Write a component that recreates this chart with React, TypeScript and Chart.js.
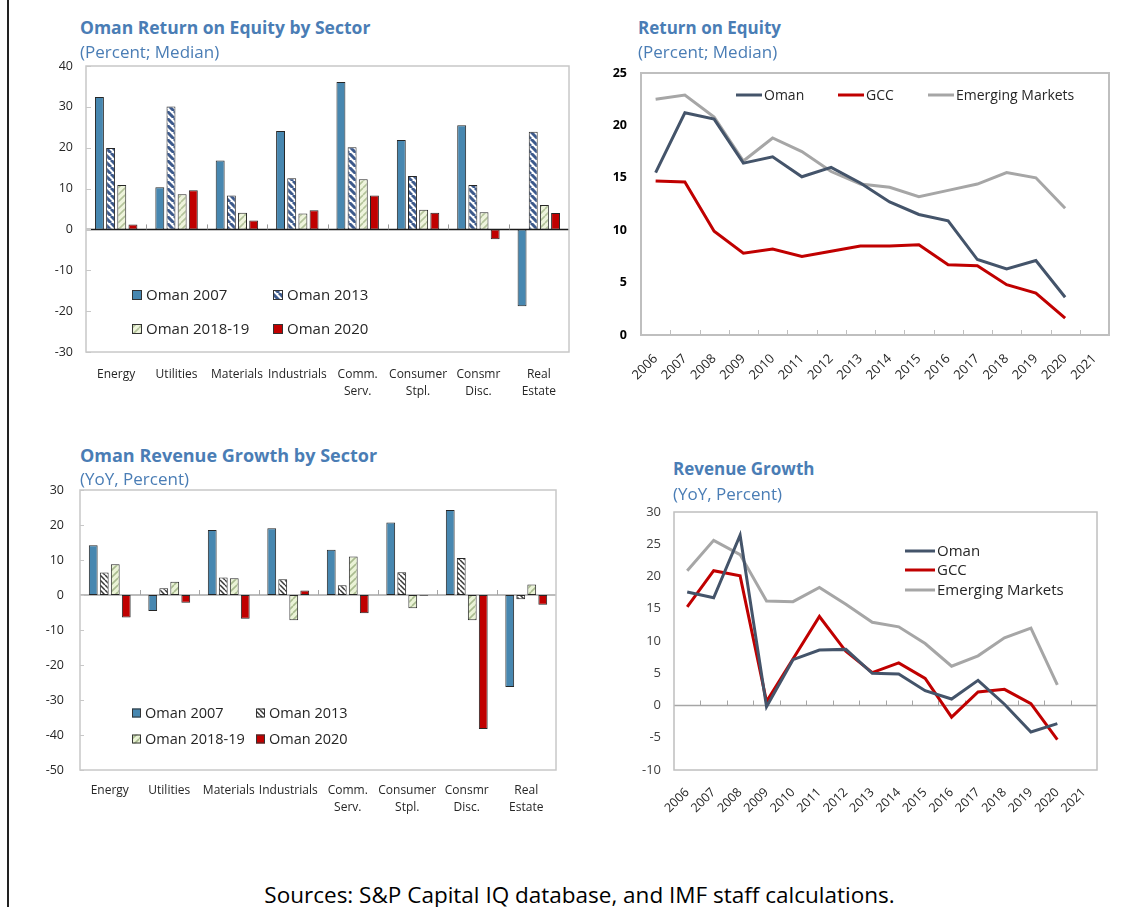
import React, { useEffect, useRef } from 'react';
import { Chart, registerables } from 'chart.js';

Chart.register(...registerables);

const FONT = '"Open Sans", "Noto Sans", "DejaVu Sans", sans-serif';
const TEXT = '#262626';
const BLUE = '#4787b0';
const RED = '#c00000';
const OMAN_LINE = '#44546a';
const GCC_LINE = '#c00000';
const EM_LINE = '#a6a6a6';
const TITLE_BLUE = '#4a7db5';

// ---------- Data ----------
const sectors = [
  ['Energy'],
  ['Utilities'],
  ['Materials'],
  ['Industrials'],
  ['Comm.', 'Serv.'],
  ['Consumer', 'Stpl.'],
  ['Consmr', 'Disc.'],
  ['Real', 'Estate'],
];
const sectorSeries = ['Oman 2007', 'Oman 2013', 'Oman 2018-19', 'Oman 2020'];

const roeOman2007 = [32.4, 10.3, 16.9, 24.1, 36.1, 21.9, 25.5, -18.8];
const roeOman2013 = [19.9, 30.1, 8.3, 12.5, 20.1, 13.1, 10.9, 23.9];
const roeOman2018 = [10.9, 8.6, 4.1, 3.9, 12.3, 4.8, 4.2, 6.0];
const roeOman2020 = [1.2, 9.6, 2.2, 4.7, 8.3, 4.1, -2.4, 4.0];

const revOman2007 = [14.2, -4.6, 18.6, 19.1, 12.9, 20.7, 24.3, -26.3];
const revOman2013 = [6.4, 1.9, 5.0, 4.5, 2.8, 6.5, 10.6, -1.2];
const revOman2018 = [8.8, 3.8, 4.8, -7.2, 11.0, -3.8, -7.2, 3.0];
const revOman2020 = [-6.4, -2.2, -6.8, 1.3, -5.2, -0.2, -38.3, -2.8];

const years = ['2006', '2007', '2008', '2009', '2010', '2011', '2012', '2013', '2014', '2015', '2016', '2017', '2018', '2019', '2020', '2021'];
const lineSeries = ['Oman', 'GCC', 'Emerging Markets'];

const roeOman = [15.5, 21.2, 20.6, 16.4, 17.0, 15.1, 16.0, 14.5, 12.7, 11.5, 10.9, 7.2, 6.3, 7.1, 3.6];
const roeGCC = [14.7, 14.6, 9.9, 7.8, 8.2, 7.5, 8.0, 8.5, 8.5, 8.6, 6.7, 6.6, 4.8, 4.0, 1.6];
const roeEM = [22.5, 22.9, 20.8, 16.6, 18.8, 17.5, 15.6, 14.4, 14.1, 13.2, 13.8, 14.4, 15.5, 15.0, 12.1];

const revOman = [17.6, 16.7, 26.4, -0.2, 7.1, 8.6, 8.7, 5.0, 4.9, 2.3, 1.0, 3.9, 0.2, -4.1, -2.8];
const revGCC = [15.3, 20.9, 20.1, 0.6, 7.2, 13.8, 8.4, 5.1, 6.6, 4.2, -1.8, 2.1, 2.5, 0.3, -5.3];
const revEM = [20.9, 25.6, 23.4, 16.2, 16.1, 18.3, 15.7, 12.9, 12.2, 9.6, 6.1, 7.7, 10.5, 12.0, 3.2];

// ---------- Helpers ----------
function hatch(bg: string, fg: string, size: number, lw: number, dir: 'back' | 'fwd'): any {
  const c = document.createElement('canvas');
  c.width = size;
  c.height = size;
  const g = c.getContext('2d');
  if (!g) return bg;
  g.fillStyle = bg;
  g.fillRect(0, 0, size, size);
  g.strokeStyle = fg;
  g.lineWidth = lw;
  g.beginPath();
  for (let k = -1; k <= 1; k++) {
    if (dir === 'back') {
      g.moveTo(k * size, 0);
      g.lineTo(k * size + size, size);
    } else {
      g.moveTo(k * size, size);
      g.lineTo(k * size + size, 0);
    }
  }
  g.stroke();
  return g.createPattern(c, 'repeat') || bg;
}

type LegendSpec = {
  kind: 'box' | 'line';
  pos: [number, number][];
  size: number;
  gap: number;
  font: string;
};
type DecoSpec = {
  frame: string;
  frameW: number;
  zero?: string;
  zeroW?: number;
  catTickAt: number;
  catTickLen: number;
  catTickColor: string;
  yInside?: number;
  legend: LegendSpec;
};

function deco(spec: DecoSpec) {
  return {
    id: 'deco',
    beforeDatasetsDraw(chart: any) {
      const { ctx, chartArea: a, scales } = chart;
      const xs = scales.x;
      const ys = scales.y;
      ctx.save();
      if (spec.zero) {
        const py = ys.getPixelForValue(0);
        ctx.strokeStyle = spec.zero;
        ctx.lineWidth = spec.zeroW || 1;
        ctx.beginPath();
        ctx.moveTo(a.left, py);
        ctx.lineTo(a.right, py);
        ctx.stroke();
      }
      const n = xs.ticks.length;
      const ty = ys.getPixelForValue(spec.catTickAt);
      ctx.strokeStyle = spec.catTickColor;
      ctx.lineWidth = 1;
      ctx.beginPath();
      for (let i = 1; i < n; i++) {
        const px = Math.round(xs.getPixelForValue(i - 0.5)) + 0.5;
        ctx.moveTo(px, ty);
        ctx.lineTo(px, ty - spec.catTickLen);
      }
      ctx.stroke();
      if (spec.yInside) {
        ctx.beginPath();
        ys.ticks.forEach((t: any) => {
          const py = Math.round(ys.getPixelForValue(t.value)) + 0.5;
          ctx.moveTo(a.left, py);
          ctx.lineTo(a.left + spec.yInside!, py);
        });
        ctx.strokeStyle = spec.frame;
        ctx.stroke();
      }
      ctx.strokeStyle = spec.frame;
      ctx.lineWidth = spec.frameW;
      ctx.strokeRect(a.left, a.top, a.width, a.height);
      ctx.restore();
    },
    afterDraw(chart: any) {
      const { ctx, chartArea: a } = chart;
      const L = spec.legend;
      ctx.save();
      ctx.font = L.font;
      ctx.textBaseline = 'middle';
      ctx.textAlign = 'left';
      chart.data.datasets.forEach((ds: any, i: number) => {
        const p = L.pos[i];
        if (!p) return;
        const x0 = a.left + p[0];
        const yc = a.top + p[1];
        let tx = x0;
        if (L.kind === 'box') {
          ctx.fillStyle = ds.backgroundColor;
          ctx.fillRect(x0, yc - L.size / 2, L.size, L.size);
          ctx.strokeStyle = '#333';
          ctx.lineWidth = 1;
          ctx.strokeRect(x0 + 0.5, yc - L.size / 2 + 0.5, L.size - 1, L.size - 1);
          tx = x0 + L.size + L.gap;
        } else {
          ctx.strokeStyle = ds.borderColor;
          ctx.lineWidth = 3;
          ctx.beginPath();
          ctx.moveTo(x0, yc);
          ctx.lineTo(x0 + L.size, yc);
          ctx.stroke();
          tx = x0 + L.size + L.gap;
        }
        ctx.fillStyle = TEXT;
        ctx.fillText(ds.label, tx, yc + 1);
      });
      ctx.restore();
    },
  };
}

function useChart(ref: React.RefObject<HTMLCanvasElement | null>, make: () => any) {
  useEffect(() => {
    if (!ref.current) return;
    const chart = new Chart(ref.current, make());
    return () => chart.destroy();
  }, []);
}

function fixX(h: number) {
  return (s: any) => {
    s.height = h;
    s.paddingLeft = 0;
    s.paddingRight = 0;
  };
}
function fixY(w: number) {
  return (s: any) => {
    s.width = w;
    s.paddingTop = 0;
    s.paddingBottom = 0;
  };
}

function barDatasets(vals: number[][], fills: any[]) {
  return vals.map((v, i) => ({
    label: sectorSeries[i],
    data: v,
    backgroundColor: fills[i],
    borderColor: '#262626',
    borderWidth: 1,
    borderSkipped: false,
    categoryPercentage: 0.74,
    barPercentage: 0.8,
  }));
}

function lineDatasets(vals: number[][]) {
  const colors = [OMAN_LINE, GCC_LINE, EM_LINE];
  return vals.map((v, i) => ({
    label: lineSeries[i],
    data: v,
    borderColor: colors[i],
    backgroundColor: colors[i],
    borderWidth: 3,
    pointRadius: 0,
    tension: 0,
    fill: false,
  }));
}

const noGrid = { display: false, drawTicks: false };

// ---------- Charts ----------
function RoeSectorChart() {
  const ref = useRef<HTMLCanvasElement>(null);
  useChart(ref, () => {
    const fills = [
      BLUE,
      hatch('#ffffff', '#3d5a8c', 7, 3, 'back'),
      hatch('#eef4dc', '#b3c39a', 7, 1.6, 'fwd'),
      RED,
    ];
    return {
      type: 'bar',
      data: {
        labels: sectors,
        datasets: barDatasets([roeOman2007, roeOman2013, roeOman2018, roeOman2020], fills),
      },
      options: {
        responsive: false,
        animation: false,
        layout: { padding: { top: 11, right: 6, left: 0, bottom: 0 } },
        plugins: { legend: { display: false }, tooltip: { enabled: false } },
        scales: {
          x: {
            grid: noGrid,
            border: { display: false },
            ticks: {
              font: { family: FONT, size: 12, lineHeight: 1.4 },
              color: TEXT,
              padding: 14,
              autoSkip: false,
              maxRotation: 0,
              minRotation: 0,
            },
            afterFit: fixX(53),
          },
          y: {
            min: -30,
            max: 40,
            grid: noGrid,
            border: { display: false },
            ticks: { stepSize: 10, font: { family: FONT, size: 12.5 }, color: TEXT, padding: 13 },
            afterFit: fixY(66),
          },
        },
      },
      plugins: [
        deco({
          frame: '#c8c8c8',
          frameW: 1.5,
          zero: '#1a1a1a',
          zeroW: 1.5,
          catTickAt: 0,
          catTickLen: 5,
          catTickColor: '#9a9a9a',
          yInside: 5,
          legend: {
            kind: 'box',
            pos: [
              [46, 229],
              [187, 229],
              [46, 263],
              [187, 263],
            ],
            size: 10,
            gap: 4,
            font: `15px ${FONT}`,
          },
        }),
      ],
    };
  });
  return <canvas ref={ref} width={555} height={350} style={{ position: 'absolute', left: 20, top: 55 }} />;
}

function RoeLineChart() {
  const ref = useRef<HTMLCanvasElement>(null);
  useChart(ref, () => ({
    type: 'line',
    data: { labels: years, datasets: lineDatasets([roeOman, roeGCC, roeEM]) },
    options: {
      responsive: false,
      animation: false,
      layout: { padding: { top: 11, right: 6, left: 0, bottom: 0 } },
      plugins: { legend: { display: false }, tooltip: { enabled: false } },
      scales: {
        x: {
          offset: true,
          grid: noGrid,
          border: { display: false },
          ticks: {
            font: { family: FONT, size: 13 },
            color: TEXT,
            padding: 16,
            autoSkip: false,
            maxRotation: 45,
            minRotation: 45,
          },
          afterFit: fixX(57),
        },
        y: {
          min: 0,
          max: 25,
          grid: noGrid,
          border: { display: false },
          ticks: { stepSize: 5, font: { family: FONT, size: 12.5, weight: 'bold' }, color: '#000', padding: 14 },
          afterFit: fixY(51),
        },
      },
    },
    plugins: [
      deco({
        frame: '#bfbfbf',
        frameW: 2,
        catTickAt: 0,
        catTickLen: 5,
        catTickColor: '#bfbfbf',
        legend: {
          kind: 'line',
          pos: [
            [95, 22],
            [197, 22],
            [287, 22],
          ],
          size: 26,
          gap: 2,
          font: `14px ${FONT}`,
        },
      }),
    ],
  }));
  return <canvas ref={ref} width={525} height={330} style={{ position: 'absolute', left: 590, top: 62 }} />;
}

function RevSectorChart() {
  const ref = useRef<HTMLCanvasElement>(null);
  useChart(ref, () => {
    const fills = [
      BLUE,
      hatch('#ffffff', '#3a3a3a', 5, 1.5, 'back'),
      hatch('#eaf3d6', '#a9bb8f', 7, 1.6, 'fwd'),
      RED,
    ];
    return {
      type: 'bar',
      data: {
        labels: sectors,
        datasets: barDatasets([revOman2007, revOman2013, revOman2018, revOman2020], fills),
      },
      options: {
        responsive: false,
        animation: false,
        layout: { padding: { top: 10, right: 9, left: 0, bottom: 0 } },
        plugins: { legend: { display: false }, tooltip: { enabled: false } },
        scales: {
          x: {
            grid: noGrid,
            border: { display: false },
            ticks: {
              font: { family: FONT, size: 12, lineHeight: 1.4 },
              color: TEXT,
              padding: 12,
              autoSkip: false,
              maxRotation: 0,
              minRotation: 0,
            },
            afterFit: fixX(50),
          },
          y: {
            min: -50,
            max: 30,
            grid: noGrid,
            border: { display: false },
            ticks: { stepSize: 10, font: { family: FONT, size: 12.5 }, color: TEXT, padding: 16 },
            afterFit: fixY(60),
          },
        },
      },
      plugins: [
        deco({
          frame: '#c8c8c8',
          frameW: 1.5,
          zero: '#a6a6a6',
          zeroW: 1.5,
          catTickAt: 0,
          catTickLen: 5,
          catTickColor: '#a6a6a6',
          yInside: 4,
          legend: {
            kind: 'box',
            pos: [
              [52, 223],
              [176, 223],
              [52, 249],
              [176, 249],
            ],
            size: 9,
            gap: 4,
            font: `14.5px ${FONT}`,
          },
        }),
      ],
    };
  });
  return <canvas ref={ref} width={545} height={340} style={{ position: 'absolute', left: 20, top: 480 }} />;
}

function RevLineChart() {
  const ref = useRef<HTMLCanvasElement>(null);
  useChart(ref, () => ({
    type: 'line',
    data: { labels: years, datasets: lineDatasets([revOman, revGCC, revEM]) },
    options: {
      responsive: false,
      animation: false,
      layout: { padding: { top: 12, right: 8, left: 0, bottom: 0 } },
      plugins: { legend: { display: false }, tooltip: { enabled: false } },
      scales: {
        x: {
          offset: true,
          grid: noGrid,
          border: { display: false },
          ticks: {
            font: { family: FONT, size: 12.5 },
            color: TEXT,
            padding: 15,
            autoSkip: false,
            maxRotation: 45,
            minRotation: 45,
          },
          afterFit: fixX(60),
        },
        y: {
          min: -10,
          max: 30,
          grid: noGrid,
          border: { display: false },
          ticks: { stepSize: 5, font: { family: FONT, size: 13 }, color: '#404040', padding: 13 },
          afterFit: fixY(49),
        },
      },
    },
    plugins: [
      deco({
        frame: '#bfbfbf',
        frameW: 1.5,
        zero: '#a6a6a6',
        zeroW: 1.5,
        catTickAt: 0,
        catTickLen: 5,
        catTickColor: '#a6a6a6',
        legend: {
          kind: 'line',
          pos: [
            [231, 39],
            [231, 58],
            [231, 78],
          ],
          size: 30,
          gap: 2,
          font: `15px ${FONT}`,
        },
      }),
    ],
  }));
  return <canvas ref={ref} width={480} height={330} style={{ position: 'absolute', left: 625, top: 500 }} />;
}

const titleStyle = (left: number, top: number, size: number, bold: boolean): React.CSSProperties => ({
  position: 'absolute',
  left,
  top,
  fontFamily: FONT,
  fontSize: size,
  fontWeight: bold ? 700 : 400,
  lineHeight: '20px',
  color: TITLE_BLUE,
  whiteSpace: 'nowrap',
});

export default function App() {
  return (
    <div
      style={{
        position: 'absolute',
        left: 0,
        top: 0,
        width: 1141,
        height: 907,
        background: '#fff',
        overflow: 'hidden',
      }}
    >
      <div style={{ position: 'absolute', left: 7, top: 0, width: 2, height: 907, background: '#222' }} />
      <RoeSectorChart />
      <RoeLineChart />
      <RevSectorChart />
      <RevLineChart />
      <div style={titleStyle(80, 17, 17.5, true)}>Oman Return on Equity by Sector</div>
      <div style={titleStyle(80, 42, 17, false)}>(Percent; Median)</div>
      <div style={titleStyle(638, 18, 17, true)}>Return on Equity</div>
      <div style={titleStyle(638, 42, 17, false)}>(Percent; Median)</div>
      <div style={titleStyle(80, 445, 18, true)}>Oman Revenue Growth by Sector</div>
      <div style={titleStyle(80, 469, 17, false)}>(YoY, Percent)</div>
      <div style={titleStyle(673, 459, 17, true)}>Revenue Growth</div>
      <div style={titleStyle(673, 484, 17, false)}>(YoY, Percent)</div>
      <div
        style={{
          position: 'absolute',
          left: 0,
          top: 881,
          width: 1159,
          textAlign: 'center',
          fontFamily: FONT,
          fontSize: 22.5,
          lineHeight: '28px',
          color: '#000',
          whiteSpace: 'nowrap',
        }}
      >
        Sources: S&amp;P Capital IQ database, and IMF staff calculations.
      </div>
    </div>
  );
}
